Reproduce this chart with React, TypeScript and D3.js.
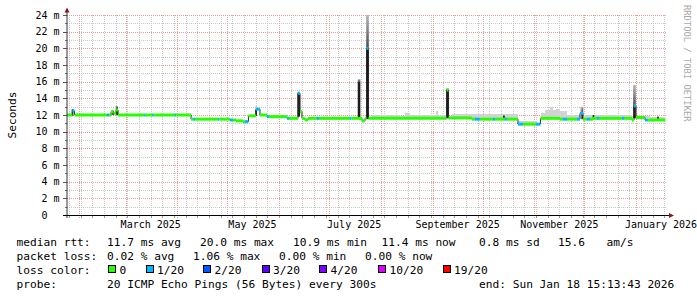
import React from "react";
import * as d3 from "d3";

// ---------- data ----------
const domainStart = "2025-01-24T19:00";
const domainEnd = "2026-01-19T14:00";
const dataEnd = "2026-01-18T15:13";

const yTickValues = [0, 2, 4, 6, 8, 10, 12, 14, 16, 18, 20, 22, 24];
const yTickLabels = ["0  ", "2 m", "4 m", "6 m", "8 m", "10 m", "12 m", "14 m", "16 m", "18 m", "20 m", "22 m", "24 m"];

const xLabelDates = ["2025-03-01", "2025-05-01", "2025-07-01", "2025-09-01", "2025-11-01", "2026-01-01"];
const xLabelTexts = ["March 2025", "May 2025", "July 2025", "September 2025", "November 2025", "January 2026"];

// median rtt (ms) as steps, with loss colour index
const medianStart = [
  "2025-01-24T19:00", "2025-01-28T00:00", "2025-01-29T07:00", "2025-02-17T19:00", "2025-02-19T00:00",
  "2025-02-20T05:00", "2025-02-21T17:00", "2025-02-23T05:00", "2025-02-24T10:00", "2025-03-12T00:00",
  "2025-03-12T22:00", "2025-03-16T19:00", "2025-03-17T17:00", "2025-03-30T14:00", "2025-03-31T12:00",
  "2025-04-09T05:00", "2025-04-10T10:00", "2025-04-11T14:00", "2025-04-25T07:00", "2025-04-26T05:00",
  "2025-05-02T12:00", "2025-05-04T07:00", "2025-05-06T02:00", "2025-05-10T07:00", "2025-05-11T12:00",
  "2025-05-13T14:00", "2025-05-18T02:00", "2025-05-20T12:00", "2025-05-24T17:00", "2025-05-25T22:00",
  "2025-06-05T17:00", "2025-06-06T22:00", "2025-06-12T07:00", "2025-06-13T12:00", "2025-06-14T17:00",
  "2025-06-16T12:00", "2025-06-18T07:00", "2025-06-23T17:00", "2025-06-24T22:00", "2025-07-13T12:00",
  "2025-07-14T10:00", "2025-07-20T17:00", "2025-07-22T12:00", "2025-07-23T10:00", "2025-07-24T14:00",
  "2025-09-09T10:00", "2025-09-10T14:00", "2025-09-24T14:00", "2025-09-26T10:00", "2025-09-29T10:00",
  "2025-10-07T05:00", "2025-10-08T10:00", "2025-10-14T10:00", "2025-10-15T14:00", "2025-10-22T05:00",
  "2025-10-25T05:00", "2025-11-02T00:00", "2025-11-04T17:00", "2025-11-16T10:00", "2025-11-18T05:00",
  "2025-11-20T14:00", "2025-11-26T14:00", "2025-11-28T10:00", "2025-11-30T05:00", "2025-12-02T14:00",
  "2025-12-04T10:00", "2025-12-06T05:00", "2025-12-08T14:00", "2025-12-09T19:00", "2025-12-23T14:00",
  "2025-12-24T19:00", "2025-12-29T14:00", "2025-12-30T19:00", "2026-01-01T00:00", "2026-01-06T10:00",
  "2026-01-08T05:00",
];
const medianMs = [
  12.0, 12.5, 12.0, 12.0, 12.0,
  12.4, 12.2, 12.6, 12.0, 12.0,
  12.0, 12.0, 12.0, 12.0, 12.0,
  11.5, 11.5, 11.5, 11.5, 11.5,
  11.4, 11.4, 11.3, 11.2, 11.2,
  11.9, 12.7, 12.0, 11.8, 11.8,
  11.6, 11.6, 14.6, 12.4, 11.6,
  11.4, 11.6, 11.6, 11.6, 11.6,
  11.6, 11.3, 11.6, 20.0, 11.6,
  15.0, 11.65, 11.5, 11.5, 11.5,
  11.5, 11.5, 11.5, 11.5, 10.9,
  10.9, 10.9, 11.6, 11.5, 11.5,
  11.5, 11.5, 12.2, 11.5, 11.5,
  11.5, 11.6, 11.6, 11.6, 11.6,
  11.6, 11.4, 13.1, 11.7, 11.4,
  11.4,
];
const medianLoss = [
  0, 1, 0, 1, 0,
  0, 0, 0, 0, 1,
  0, 1, 0, 1, 0,
  0, 1, 0, 1, 0,
  1, 0, 0, 0, 1,
  0, 1, 0, 1, 0,
  1, 0, 1, 0, 0,
  0, 0, 1, 0, 1,
  0, 0, 0, 1, 0,
  0, 0, 0, 1, 0,
  1, 0, 1, 0, 1,
  0, 1, 0, 0, 1,
  0, 1, 1, 0, 1,
  0, 0, 1, 0, 1,
  0, 0, 1, 0, 1,
  0,
];

// light smoke upper bound (ms), 0 = none
const smokeStart = [
  "2025-02-22T17:00", "2025-02-24T10:00", "2025-05-17T12:00", "2025-05-19T00:00", "2025-07-26T17:00",
  "2025-08-12T12:00", "2025-08-15T12:00", "2025-08-18T12:00", "2025-09-03T02:00", "2025-09-04T07:00",
  "2025-09-09T02:00", "2025-09-12T17:00", "2025-10-22T05:00", "2025-11-02T14:00", "2025-11-04T22:00",
  "2025-11-07T10:00", "2025-11-10T10:00", "2025-11-12T05:00", "2025-11-14T00:00", "2025-11-16T10:00",
  "2025-11-20T14:00", "2025-11-28T10:00", "2025-11-30T19:00", "2025-12-29T14:00", "2026-01-09T10:00",
];
const smokeTop = [
  13.1, 0, 13.1, 0, 12.0,
  11.9, 12.3, 12.0, 12.5, 12.0,
  0, 12.1, 11.3, 11.1, 12.2,
  12.6, 13.0, 12.6, 12.75, 12.5,
  12.05, 13.0, 12.0, 11.9, 11.8,
];

// dense smoke spikes
const spikeDate = [
  "2025-01-28T03:00", "2025-02-21T10:00", "2025-02-23T19:00", "2025-05-18T04:00", "2025-06-12T19:00",
  "2025-07-18T22:00", "2025-07-24T00:00", "2025-09-10T00:00", "2025-10-13T19:00", "2025-11-29T17:00",
  "2025-12-06T12:00", "2025-12-31T02:00", "2026-01-14T05:00",
];
const spikeBase = [11.9, 12.0, 12.0, 11.9, 11.8, 11.5, 11.5, 11.6, 11.5, 11.5, 11.5, 11.6, 11.4];
const spikeDark = [12.7, 12.5, 12.9, 12.6, 14.6, 16.0, 20.0, 15.0, 11.95, 12.4, 12.0, 13.0, 11.8];
const spikeTop = [12.7, 12.5, 13.1, 12.6, 14.8, 16.3, 24.0, 15.2, 11.95, 13.0, 12.0, 15.6, 11.8];

const lossColors = ["#26ff00", "#00b8ff", "#0059ff", "#5e00ff", "#7e00ff", "#dd00ff", "#ff0000"];
const lossLabels = ["0", "1/20", "2/20", "3/20", "4/20", "10/20", "19/20"];

const rttLegend = ["median rtt:", "11.7 ms avg", "20.0 ms max", "10.9 ms min", "11.4 ms now", "0.8 ms sd", "15.6", "am/s"];
const lossLegend = ["packet loss:", "0.02 % avg", "1.06 % max", "0.00 % min", "0.00 % now"];
const probeLegend = ["probe:", "20 ICMP Echo Pings (56 Bytes) every 300s", "end: Sun Jan 18 15:13:43 2026"];

// ---------- layout ----------
const rttX = [16.5, 107, 200, 293, 381.5, 479, 558, 606.5];
const lossX = [16.5, 107, 193, 279, 365];
const probeX = [16.5, 107, 479];
const colorLabelX = 16.5;
const colorBoxX = [108.5, 146, 203.5, 262, 319.5, 378.5, 443];

const FONT = "'DejaVu Sans Mono', monospace";

export default function App() {
  const x = d3.scaleTime().domain([new Date(domainStart), new Date(domainEnd)]).range([67, 667]);
  const y = d3.scaleLinear().domain([0, 24]).range([215, 15]);
  const end = new Date(dataEnd);
  const mStarts = medianStart.map((s) => new Date(s));
  const medianAt = (t: Date) => {
    const i = Math.max(0, d3.bisectRight(mStarts, t) - 1);
    return medianMs[i];
  };
  const crisp = (v: number) => Math.round(v) + 0.5;

  const minorY = d3.range(1, 24, 2);
  const majorY = d3.range(2, 25, 2);
  const t0 = new Date(domainStart);
  const t1 = new Date(domainEnd);
  const weeks = d3.timeSunday.range(t0, t1);
  const months = d3.timeMonth.range(t0, t1);

  const majorColor = "#eb9a9a";
  const minorColor = "#c9c9c9";

  return (
    <svg width={697} height={297} style={{ position: "absolute", left: 0, top: 0, background: "#fff" }} fontFamily={FONT}>
      <defs>
        <linearGradient id="smokeGrad" x1="0" y1="0" x2="0" y2="1">
          <stop offset="0" stopColor="#b4b4b4" />
          <stop offset="1" stopColor="#4a4a4a" />
        </linearGradient>
      </defs>
      <rect x={0} y={0} width={697} height={297} fill="#fff" />

      {/* grid */}
      <g shapeRendering="crispEdges">
        {minorY.map((v) => (
          <g key={"my" + v}>
            <line x1={67} x2={667} y1={crisp(y(v))} y2={crisp(y(v))} stroke={minorColor} strokeDasharray="1,1" />
            <line x1={65} x2={67} y1={crisp(y(v))} y2={crisp(y(v))} stroke="#777" />
          </g>
        ))}
        {weeks.map((d, i) => (
          <g key={"wx" + i}>
            <line x1={crisp(x(d))} x2={crisp(x(d))} y1={15} y2={215} stroke={minorColor} strokeDasharray="1,1" />
            <line x1={crisp(x(d))} x2={crisp(x(d))} y1={215} y2={218} stroke="#999" />
          </g>
        ))}
        {majorY.map((v) => (
          <g key={"My" + v}>
            <line x1={67} x2={667} y1={crisp(y(v))} y2={crisp(y(v))} stroke={majorColor} strokeDasharray="1,1" />
            <line x1={63} x2={67} y1={crisp(y(v))} y2={crisp(y(v))} stroke="#555" />
          </g>
        ))}
        {months.map((d, i) => (
          <g key={"Mx" + i}>
            <line x1={crisp(x(d))} x2={crisp(x(d))} y1={15} y2={215} stroke={majorColor} strokeDasharray="1,1" />
            <line x1={crisp(x(d))} x2={crisp(x(d))} y1={215} y2={219} stroke={majorColor} strokeDasharray="1,1" />
          </g>
        ))}
      </g>

      {/* light smoke */}
      <g shapeRendering="crispEdges">
        {smokeStart.map((s, i) => {
          if (!smokeTop[i]) return null;
          const a = new Date(s);
          const b = i + 1 < smokeStart.length ? new Date(smokeStart[i + 1]) : end;
          const mid = new Date((a.getTime() + b.getTime()) / 2);
          const base = medianAt(mid);
          const yt = y(smokeTop[i]);
          const yb = y(base);
          if (yb <= yt) return null;
          return <rect key={"s" + i} x={x(a)} width={x(b) - x(a)} y={yt} height={yb - yt} fill="#d2d2d2" />;
        })}
      </g>

      {/* dense smoke spikes */}
      <g>
        {spikeDate.map((s, i) => {
          const cx = x(new Date(s));
          const w = spikeTop[i] - spikeBase[i] > 2 ? 2.6 : 1.6;
          return (
            <g key={"k" + i}>
              {spikeTop[i] > spikeDark[i] && (
                <rect x={cx - w / 2} width={w} y={y(spikeTop[i])} height={y(spikeDark[i]) - y(spikeTop[i])} fill="url(#smokeGrad)" />
              )}
              <rect x={cx - w / 2} width={w} y={y(spikeDark[i])} height={y(spikeBase[i]) - y(spikeDark[i])} fill="#1c1c1c" />
            </g>
          );
        })}
      </g>

      {/* median transitions */}
      <g>
        {medianStart.map((s, i) => {
          if (i === 0 || medianMs[i] === medianMs[i - 1]) return null;
          const xx = x(new Date(s));
          return (
            <line key={"t" + i} x1={xx} x2={xx} y1={y(medianMs[i - 1])} y2={y(medianMs[i])} stroke="#2a2a2a" strokeWidth={1} />
          );
        })}
      </g>

      {/* median line coloured by loss */}
      <g>
        {medianStart.map((s, i) => {
          const a = x(new Date(s));
          const b = x(i + 1 < medianStart.length ? new Date(medianStart[i + 1]) : end);
          const yy = y(medianMs[i]);
          return <line key={"m" + i} x1={a} x2={b} y1={yy} y2={yy} stroke={lossColors[medianLoss[i]]} strokeWidth={3} />;
        })}
      </g>

      {/* axes */}
      <line x1={67} x2={67} y1={218} y2={12} stroke="#333" strokeWidth={1} />
      <polygon points="64.5,12.5 69.5,12.5 67,7.5" fill="#8b1a1a" />
      <line x1={63} x2={670} y1={215.5} y2={215.5} stroke="#000" strokeWidth={1.2} />
      <polygon points="669,213 669,218 674,215.5" fill="#8b1a1a" />

      {/* y labels */}
      <g fontSize={10} fill="#000" textAnchor="end" style={{ whiteSpace: "pre" }}>
        {yTickValues.map((v, i) => (
          <text key={"yl" + v} x={59.5} y={y(v)} dy="0.36em" xmlSpace="preserve">
            {yTickLabels[i]}
          </text>
        ))}
      </g>

      {/* x labels */}
      <g fontSize={10} fill="#000" textAnchor="middle">
        {xLabelDates.map((d, i) => (
          <text key={"xl" + i} x={x(d3.timeDay.offset(new Date(d + "T00:00"), 15))} y={228.3}>
            {xLabelTexts[i]}
          </text>
        ))}
      </g>

      {/* axis title */}
      <text transform="translate(15.5,115) rotate(-90)" textAnchor="middle" fontSize={11.2} fill="#000">
        Seconds
      </text>

      {/* watermark */}
      <text transform="translate(684,5) rotate(90)" fontSize={8.8} fill="#a9a9a9">
        RRDTOOL / TOBI OETIKER
      </text>

      {/* legend */}
      <g fontSize={11.2} fill="#000" style={{ whiteSpace: "pre" }}>
        {rttLegend.map((t, i) => (
          <text key={"r" + i} x={rttX[i]} y={245.5}>{t}</text>
        ))}
        {lossLegend.map((t, i) => (
          <text key={"p" + i} x={lossX[i]} y={259.5}>{t}</text>
        ))}
        <text x={colorLabelX} y={273.5}>loss color:</text>
        {lossLabels.map((t, i) => (
          <g key={"c" + i}>
            <rect x={colorBoxX[i]} y={265.5} width={7} height={7} fill={lossColors[i]} stroke="#000" strokeWidth={1} shapeRendering="crispEdges" />
            <text x={colorBoxX[i] + 11} y={273.5}>{t}</text>
          </g>
        ))}
        {probeLegend.map((t, i) => (
          <text key={"b" + i} x={probeX[i]} y={287.5}>{t}</text>
        ))}
      </g>
    </svg>
  );
}
